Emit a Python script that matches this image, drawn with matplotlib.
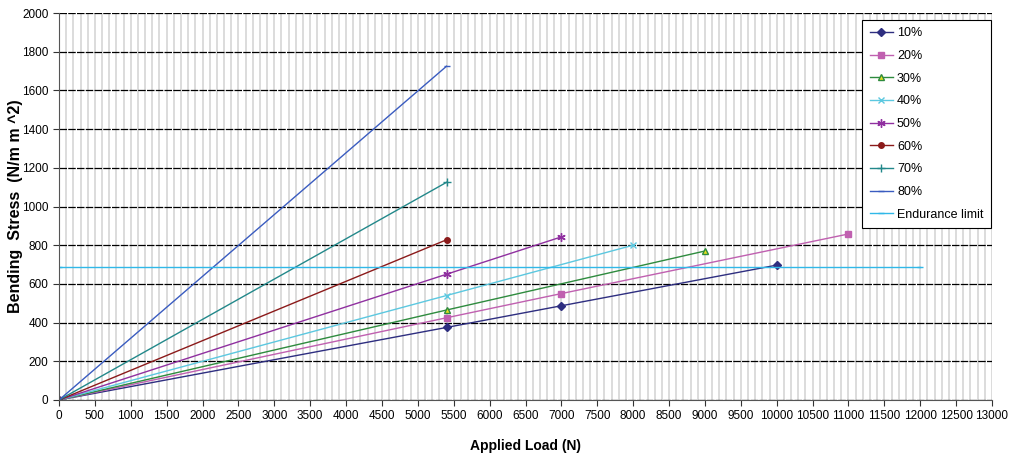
import matplotlib
matplotlib.use("Agg")
import matplotlib.pyplot as plt
from matplotlib.ticker import MultipleLocator

plt.rcParams['font.family'] = ['Liberation Sans', 'DejaVu Sans']

labels = ["10%", "20%", "30%", "40%", "50%", "60%", "70%", "80%", "Endurance limit"]
loads = [
    [0, 5400, 7000, 10000],
    [0, 5400, 7000, 11000],
    [0, 5400, 9000],
    [0, 5400, 8000],
    [0, 5400, 7000],
    [0, 5400],
    [0, 5400],
    [0, 5400],
    [0, 12000],
]
stress = [
    [0, 375, 487, 697],
    [0, 425, 550, 858],
    [0, 465, 770],
    [0, 540, 800],
    [0, 650, 843],
    [0, 828],
    [0, 1125],
    [0, 1725],
    [688, 688],
]
colors = ["#2E2E80", "#C060B0", "#2E8B3E", "#5CC8E0", "#9030A0", "#8B1A1A", "#22888A", "#3A5CC0", "#30B8E8"]
markers = ["D", "s", "^", "x", (6, 2, 0), "o", "+", "_", "_"]
msizes = [4, 5, 5, 5, 6, 4, 6, 4, 5]
faces = [None, None, "#E8E020", None, None, None, None, None, None]

fig = plt.figure(figsize=(10.10, 4.58), dpi=100)
ax = fig.add_axes([59/1010, 1-400/458, (992-59)/1010, (400-13)/458])

for x, y, lab, c, m, ms, fc in zip(loads, stress, labels, colors, markers, msizes, faces):
    kw = dict(color=c, lw=1.0, marker=m, markersize=ms, label=lab, markeredgecolor=c)
    if fc is not None:
        kw['markerfacecolor'] = fc
    ax.plot(x, y, **kw)

ax.set_xlim(0, 13000)
ax.set_ylim(0, 2000)
ax.xaxis.set_major_locator(MultipleLocator(500))
ax.xaxis.set_minor_locator(MultipleLocator(100))
ax.yaxis.set_major_locator(MultipleLocator(200))
ax.grid(which='minor', axis='x', color='#D9D9D9', lw=1.3)
ax.grid(which='major', axis='x', color='#D9D9D9', lw=1.3)
ax.grid(which='major', axis='y', color='black', lw=0.9, ls=(0, (6, 1)))
ax.set_axisbelow(True)
ax.tick_params(axis='both', which='major', labelsize=8.5, length=4, width=0.8, direction='out', color='#333333')
ax.tick_params(axis='x', which='minor', length=0)
for s in ['top', 'right']:
    ax.spines[s].set_visible(False)
ax.spines['left'].set_color('#555555')
ax.spines['bottom'].set_color('#555555')

ax.set_xlabel("Applied Load (N)", fontsize=10, fontweight='bold')
ax.xaxis.set_label_coords(0.5, (400-439)/387)
ax.set_ylabel("Bending  Stress  (N/m m ^2)", fontsize=11.5, fontweight='bold')
ax.yaxis.set_label_coords((23-59)/933, 0.5)

leg = ax.legend(loc='upper left', bbox_to_anchor=((862-59)/933, (400-20)/387), fontsize=9,
                frameon=True, fancybox=False, edgecolor='black', framealpha=1,
                handlelength=1.9, labelspacing=0.85, borderpad=0.6, handletextpad=0.3,
                borderaxespad=0)
leg.get_frame().set_linewidth(0.8)

fig.savefig("out.png", dpi=100)
